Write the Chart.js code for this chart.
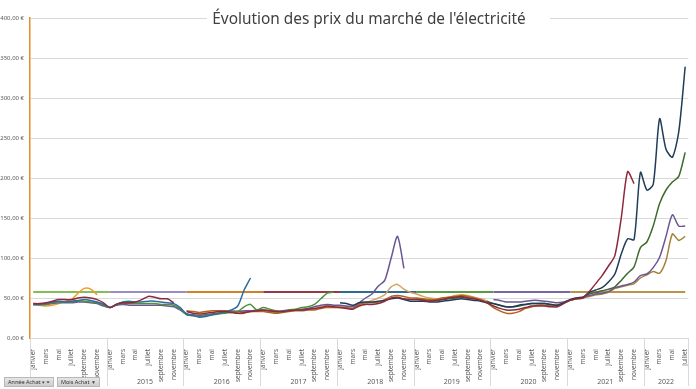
<!DOCTYPE html>
<html>
<head>
<meta charset="utf-8">
<script src="https://cdn.jsdelivr.net/npm/chart.js@4.4.0/dist/chart.umd.min.js"></script>
<style>
    html, body { margin: 0; padding: 0; background: #fff; }
    #wrap { position: relative; width: 696px; height: 389px; }
    .btn {
        position: absolute; top: 377px; height: 10px; box-sizing: border-box;
        background: linear-gradient(#e6e6e6, #cdcdcd); border: 1px solid #b8b8b8;
        font: 5.5px "Noto Sans", sans-serif; color: #333; line-height: 8px; padding-left: 3px;
        white-space: nowrap; overflow: hidden;
    }
    .btn .ico { position: absolute; right: 3px; top: 0; font-size: 5px; color: #444; }
</style>
</head>
<body>
<div id="wrap">
    <canvas id="prixChart" width="696" height="389"></canvas>
    <div class="btn" style="left:4px;width:50px">Année Achat<span class="ico">▾ ⏷</span></div>
    <div class="btn" style="left:57px;width:43px">Mois Achat<span class="ico">▼</span></div>
</div>
<script>
const moisNoms = ['janvier', 'février', 'mars', 'avril', 'mai', 'juin', 'juillet', 'août', 'septembre', 'octobre', 'novembre', 'décembre'];
const annees = ['2014', '2015', '2016', '2017', '2018', '2019', '2020', '2021', '2022'];
const moisParAnnee = [12, 12, 12, 12, 12, 12, 12, 12, 7];

// prix de référence par année (ligne horizontale) et sa couleur
const tarifAnnuel = [57.5, 57.5, 57.5, 57.5, 57.5, 57.5, 57.5, 57.5, 57.5];
const couleurTarif = ['#84bd5a', '#9c8cc4', '#d4802a', '#963a48', '#2e6a96', '#5a9a42', '#7a68a6', '#b8954e', '#b8954e'];

// séries (index de départ dans les mois, valeurs en €)
const bordeauxDebut = 0;
const bordeaux = [
    43, 43, 44, 46, 48, 48, 48, 50, 51, 50, 48, 44,
    38, 42, 44, 44, 45, 48, 52, 51, 49, 49, 44, null,
    33, 31, 30, 31, 32, 33, 33, 32, 31, 32, 33, 34,
    35, 34, 33, 33, 34, 35, 35, 36, 37, 38, 40, 39,
    38, 37, 36, 40, 42, 42, 43, 46, 50, 51, 49, 48,
    48, 47, 46, 47, 48, 50, 51, 52, 50, 49, 47, 44,
    40, 37, 35, 35, 36, 38, 40, 40, 40, 39, 39, 43,
    47, 49, 50, 58, 68, 78, 90, 103, 150, 208, 193
];
const marineDebut = 48;
const marine = [
    44, 43, 41, 44, 45, 45, 46, 47, 49, 50, 48, 46,
    46, 46, 45, 45, 46, 47, 48, 49, 48, 47, 46, 44,
    43, 41, 39, 39, 41, 42, 43, 43, 43, 42, 41, 44,
    48, 50, 51, 57, 60, 63, 70, 80, 105, 124, 123, 207,
    185, 192, 274, 236, 226, 258, 339
];
const bleuDebut = 0;
const bleu = [
    42, 42, 43, 45, 46, 45, 46, 47, 48, 47, 45, 42,
    38, 42, 45, 46, 45, 45, 46, 46, 45, 44, 43, 38,
    30, 28, 26, 27, 29, 31, 33, 35, 40, 60, 75
];
const vertDebut = 0;
const vert = [
    42, 42, 42, 44, 45, 45, 45, 46, 46, 45, 44, 41,
    38, 42, 43, 43, 43, 43, 43, 43, 42, 42, 41, 36,
    29, 28, 27, 28, 29, 30, 31, 32, 33, 39, 42, 35,
    38, 36, 34, 33, 35, 36, 38, 39, 42, 49, 56, 57.5
];
const violetDebut = 0;
const violet = [
    42, 42, 42, 43, 44, 44, 44, 45, 45, 44, 43, 40,
    38, 41, 42, 41, 41, 41, 41, 41, 41, 40, 39, 35,
    30, 29, 28, 29, 30, 31, 32, 33, 33, 34, 34, 35,
    35, 34, 33, 34, 35, 35, 36, 37, 39, 41, 42, 41,
    41, 40, 39, 44, 50, 55, 65, 72, 100, 127, 87, null,
    null, null, null, null, null, null, null, null, null, null, null, null,
    48, 47, 45, 45, 45, 46, 47, 47, 46, 45, 44, 45,
    48, 50, 51, 53, 55, 56, 58, 63, 65, 67, 70, 78,
    80, 88, 101, 127, 154, 140, 140
];
const orangeDebut = 0;
const orange = [42, 41, 40, 41, 43, 46, 48, 56, 62, 61, 54];
const brunDebut = 24;
const brun = [
    34, 33, 32, 33, 34, 34, 34, 33, 31, 31, 33, 33,
    33, 32, 31, 32, 33, 34, 34, 35, 35, 37, 38, 38,
    38, 38, 37, 42, 44, 44, 45, 48, 52, 53, 52, 50,
    50, 49, 48, 48, 50, 51, 52, 53, 52, 50, 48, 44,
    38, 34, 31, 31, 33, 37, 39, 41, 41, 40, 41, 44,
    47, 49, 50, 52, 54, 55, 57, 62, 64, 66, 68, 75,
    79, 83, 81, 97, 130, 122, 127
];
const beigeDebut = 24;
const beige = [
    29, 28, 27, 28, 30, 31, 33, 34, 34, 33, 34, 34,
    34, 33, 32, 33, 34, 35, 35, 36, 37, 39, 40, 40,
    39, 39, 40, 41, 44, 47, 50, 54, 64, 67, 61, 57,
    55, 52, 50, 49, 50, 51, 53, 54, 53, 51, 49, 46
];
const vertFonceDebut = 60;
const vertFonce = [
    49, 48, 47, 47, 48, 49, 50, 51, 50, 49, 48, 46,
    43, 41, 39, 39, 40, 42, 43, 43, 43, 42, 41, 44,
    47, 49, 50, 55, 57, 59, 61, 64, 72, 81, 89, 113,
    120, 140, 168, 185, 195, 202, 232
];

// construit les libellés et l'année de chaque mois
const labels = [];
const anneeDuMois = [];
annees.forEach((a, k) => {
    for (let m = 0; m < moisParAnnee[k]; m++) {
        labels.push(moisNoms[m]);
        anneeDuMois.push(k);
    }
});

function placer(debut, valeurs) {
    const out = new Array(labels.length).fill(null);
    valeurs.forEach((v, i) => { out[debut + i] = v; });
    return out;
}

function serie(label, couleur, debut, valeurs) {
    return {
        label: label,
        data: placer(debut, valeurs),
        borderColor: couleur,
        borderWidth: 1.5,
        pointRadius: 0,
        tension: 0.25,
        spanGaps: false,
        fill: false
    };
}

const brunSerie = serie('Brun', '#ad6520', brunDebut, brun);
// à partir de 2021 la courbe brune tire vers le doré
brunSerie.segment = {
    borderColor: ctx => anneeDuMois[ctx.p0DataIndex] >= 7 ? '#a7813e' : '#ad6520'
};

const datasets = [
    serie('Bordeaux', '#8c2a3b', bordeauxDebut, bordeaux),
    serie('Marine', '#1f3c58', marineDebut, marine),
    serie('Bleu', '#2c6c9e', bleuDebut, bleu),
    serie('Vert', '#4f8f3f', vertDebut, vert),
    serie('Violet', '#6b5694', violetDebut, violet),
    serie('Orange', '#f39c2c', orangeDebut, orange),
    brunSerie,
    serie('Beige', '#d4a45d', beigeDebut, beige),
    serie('Vert foncé', '#3e6b2c', vertFonceDebut, vertFonce),
    {
        label: 'Tarif',
        data: anneeDuMois.map(k => tarifAnnuel[k]),
        borderWidth: 2,
        pointRadius: 0,
        tension: 0,
        borderColor: couleurTarif[0],
        segment: {
            borderColor: ctx => couleurTarif[anneeDuMois[ctx.p0DataIndex]]
        }
    }
];

// axe des années + séparateurs + titre
const decorPlugin = {
    id: 'decor',
    afterDraw(chart) {
        const { ctx, chartArea } = chart;
        const x = chart.scales.x;
        const w = x.getPixelForValue(1) - x.getPixelForValue(0);
        ctx.save();
        ctx.strokeStyle = '#d9d9d9';
        ctx.lineWidth = 1;
        ctx.fillStyle = '#595959';
        ctx.font = '7px "Noto Sans"';
        ctx.textAlign = 'center';
        ctx.textBaseline = 'middle';
        let idx = 0;
        let x1 = 0;
        annees.forEach((a, k) => {
            const n = moisParAnnee[k];
            const x0 = x.getPixelForValue(idx) - w / 2;
            x1 = x.getPixelForValue(idx + n - 1) + w / 2;
            ctx.beginPath();
            ctx.moveTo(Math.round(x0) + 0.5, chartArea.bottom);
            ctx.lineTo(Math.round(x0) + 0.5, 386);
            ctx.stroke();
            ctx.fillText(a, (x0 + x1) / 2, 382);
            idx += n;
        });
        ctx.beginPath();
        ctx.moveTo(Math.round(x1) + 0.5, chartArea.bottom);
        ctx.lineTo(Math.round(x1) + 0.5, 386);
        ctx.stroke();

        // titre
        ctx.fillStyle = '#fff';
        ctx.fillRect(207, 4, 343, 26);
        ctx.fillStyle = '#404040';
        ctx.font = '15.4px "Noto Sans"';
        ctx.textBaseline = 'alphabetic';
        ctx.fillText('Évolution des prix du marché de l\'électricité', 369, 24);
        ctx.restore();
    }
};

const chart = new Chart(document.getElementById('prixChart').getContext('2d'), {
    type: 'line',
    data: { labels: labels, datasets: datasets },
    options: {
        responsive: false,
        animation: false,
        devicePixelRatio: 1,
        layout: { padding: { top: 18, right: 5, left: 0, bottom: 0 } },
        plugins: {
            legend: { display: false },
            tooltip: { enabled: false }
        },
        scales: {
            x: {
                type: 'category',
                offset: true,
                grid: { display: false },
                border: { display: true, color: '#d9d9d9', width: 1 },
                ticks: {
                    autoSkip: false,
                    maxRotation: 90,
                    minRotation: 90,
                    padding: 3,
                    color: '#595959',
                    font: { family: 'Noto Sans', size: 6.5 },
                    callback: function(value, index) {
                        return index % 2 === 0 ? labels[index] : '';
                    }
                },
                afterFit: function(scale) { scale.height = 51; }
            },
            y: {
                min: 0,
                max: 400,
                ticks: {
                    stepSize: 50,
                    padding: 6,
                    color: '#595959',
                    font: { family: 'Noto Sans', size: 6 },
                    callback: function(value) {
                        return value.toFixed(2).replace('.', ',') + ' €';
                    }
                },
                grid: { color: '#d9d9d9', drawTicks: false },
                border: { display: true, color: '#e8892b', width: 1.5 },
                afterFit: function(scale) { scale.width = 30; }
            }
        }
    },
    plugins: [decorPlugin]
});
</script>
</body>
</html>
